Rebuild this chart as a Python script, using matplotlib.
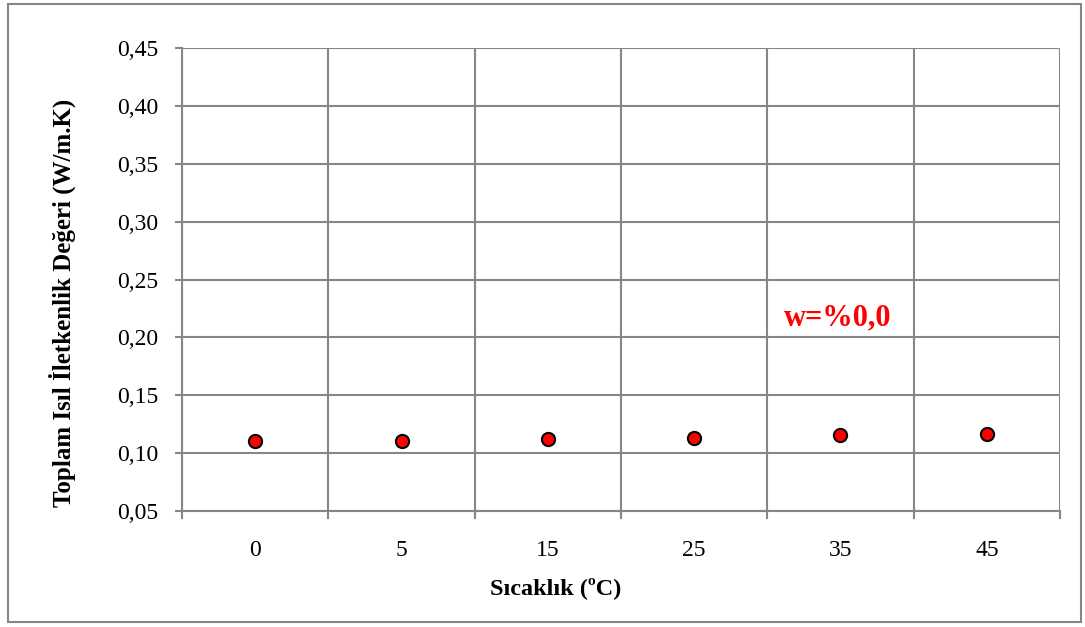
import numpy as np
import matplotlib.pyplot as plt
from matplotlib.patches import Rectangle

plt.rcParams['font.family'] = ['Liberation Serif', 'DejaVu Serif']

# sıcaklık kategorileri ve toplam ısıl iletkenlik değerleri
sicaklik = ['0', '5', '15', '25', '35', '45']
iletkenlik = [0.1101, 0.1106, 0.1120, 0.1134, 0.1153, 0.1164]
y_ticks = [0.05, 0.10, 0.15, 0.20, 0.25, 0.30, 0.35, 0.40, 0.45]

fig = plt.figure(figsize=(10.85, 6.27), dpi=100)
ax = fig.add_axes([182/1085, 1-511/627, (1060-182)/1085, (511-48)/627])

grid_c = '#868686'
x = np.arange(len(sicaklik))
ax.scatter(x, iletkenlik, s=90, c='#ff0000', edgecolors='black', linewidths=1.5, zorder=3)

ax.set_xlim(-0.5, len(sicaklik) - 0.5)
ax.set_ylim(0.05, 0.45)
ax.set_yticks(y_ticks)
ax.set_yticklabels([f'{v:.2f}'.replace('.', ',') for v in y_ticks], fontsize=17)
ax.set_xticks(x)
ax.set_xticklabels(sicaklik, fontsize=17)
ax.tick_params(axis='x', length=0, pad=21)
ax.tick_params(axis='y', length=5, color=grid_c, width=1.5, pad=12)

# kategori sınırlarındaki dikey çizgiler ve alt tik işaretleri
for b in np.arange(-0.5, len(sicaklik)):
    ax.axvline(b, color=grid_c, lw=1.5, zorder=1)
    ax.plot([b, b], [0.05, 0.05 - 0.006], color=grid_c, lw=1.5, clip_on=False)
ax.yaxis.grid(True, color=grid_c, lw=1.5)
ax.set_axisbelow(True)
for s in ['top', 'right']:
    ax.spines[s].set_visible(False)
for s in ['left', 'bottom']:
    ax.spines[s].set_color(grid_c)
    ax.spines[s].set_linewidth(1.5)

ax.set_xlabel('Sıcaklık (ºC)', fontsize=17.5, fontweight='bold')
ax.set_ylabel('Toplam Isıl İletkenlik Değeri (W/m.K)', fontsize=18, fontweight='bold')
ax.xaxis.set_label_coords(0.426, -0.142)
ax.yaxis.set_label_coords(-0.121, 0.449)

ax.text(3.98, 0.217, 'w=%0,0', color='#ff0000', fontsize=22, fontweight='bold',
        ha='center', va='center')

fig.patches.append(Rectangle((8/1085, 1-622/627), (1081-8)/1085, (622-4)/627,
                             transform=fig.transFigure, fill=False,
                             edgecolor='#868686', lw=1.5))

fig.savefig('out.png', dpi=100)
